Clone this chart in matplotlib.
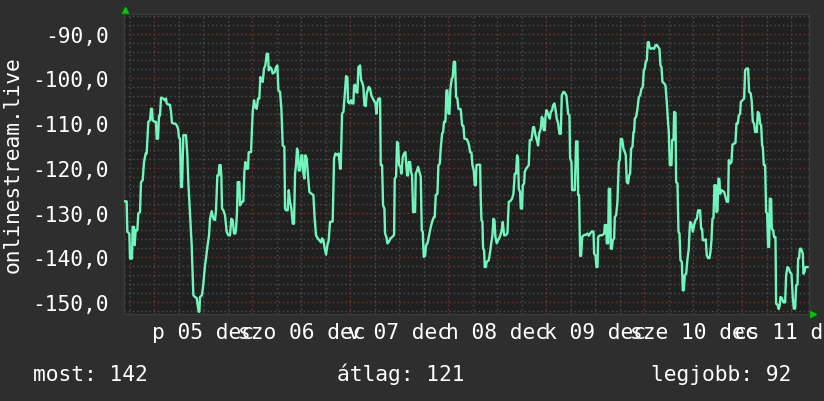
import matplotlib.pyplot as plt
import numpy as np

plt.rcParams['font.family'] = ['DejaVu Sans Mono']

# (hours since dec 05 00:00, value), one list per stretch
seg_1 = [(-7.18, -127.5), (-6.77, -127.5), (-6.60, -134.3), (-6.11, -134.7), (-5.95, -140.3),
         (-5.46, -140.3), (-5.30, -133.2), (-4.97, -133.2), (-4.81, -137.3), (-4.56, -134.0),
         (-4.16, -134.0), (-3.91, -130.2), (-3.50, -129.9), (-3.26, -123.2), (-2.85, -122.8),
         (-2.52, -118.7), (-2.11, -116.8), (-1.87, -116.8), (-1.46, -109.7), (-1.05, -109.4),
         (-0.81, -106.8), (-0.56, -106.8), (-0.40, -109.4), (0.09, -109.7), (0.42, -109.7),
         (0.58, -113.5), (0.91, -113.5), (1.15, -108.3), (1.40, -108.3), (1.64, -104.3),
         (2.21, -104.5), (2.54, -104.9), (2.87, -104.5), (3.03, -105.6), (3.52, -105.9),
         (3.84, -105.9), (4.09, -107.5), (4.33, -109.9), (4.66, -110.1), (5.15, -110.1),
         (5.48, -110.5), (5.80, -111.2), (6.05, -113.3), (6.29, -113.5), (6.54, -124.3),
         (6.78, -124.3), (6.95, -117.9), (7.11, -112.7), (7.76, -112.7), (8.09, -117.2),
         (8.33, -123.2), (8.74, -130.2), (9.15, -137.3), (9.56, -148.5), (9.97, -148.9),
         (10.37, -149.1), (10.62, -150.7), (10.86, -152.2), (11.03, -152.2), (11.19, -148.9),
         (11.68, -148.5), (12.01, -145.9), (12.42, -141.8), (12.66, -140.3), (12.99, -137.7),
         (13.40, -135.1), (13.64, -131.4), (14.05, -129.7), (14.46, -131.4), (14.86, -131.7),
         (15.11, -129.5), (15.44, -121.7), (15.76, -121.7), (15.93, -119.4), (16.25, -119.4),
         (16.42, -122.0), (16.58, -129.1), (16.91, -129.5), (17.31, -130.6), (17.72, -134.3),
         (18.13, -135.1), (18.54, -135.1), (18.86, -131.4), (19.19, -131.7), (19.52, -134.7),
         (19.84, -134.7)]

seg_2 = [(20.01, -133.6), (20.25, -129.9), (20.42, -123.2), (20.83, -123.2), (20.99, -128.4),
         (21.48, -127.6), (21.81, -127.5), (22.05, -120.9), (22.30, -118.7), (22.62, -120.2),
         (22.95, -120.2), (23.11, -116.5), (23.68, -116.5), (24.09, -107.5), (24.42, -104.9),
         (24.74, -106.4), (25.07, -106.8), (25.40, -104.5), (25.72, -104.5), (25.97, -99.7),
         (26.21, -100.1), (26.54, -100.8), (26.87, -97.8), (27.19, -97.1), (27.52, -94.5),
         (27.85, -94.5), (28.01, -98.2), (28.34, -97.5), (28.66, -97.8), (28.99, -98.9),
         (29.48, -98.6), (29.81, -97.5), (30.13, -97.1), (30.38, -102.7), (30.79, -103.0),
         (31.11, -106.8), (31.44, -115.0), (31.85, -115.3), (32.01, -129.1), (32.25, -129.5),
         (32.66, -129.5), (32.91, -125.0), (33.23, -127.6), (33.56, -129.1), (33.89, -132.5),
         (34.21, -132.5), (34.46, -121.3), (34.70, -119.4), (34.95, -115.7), (35.19, -116.5),
         (35.36, -120.6), (35.68, -120.6), (36.01, -117.2), (36.25, -117.2), (36.42, -120.6),
         (36.74, -122.4), (36.99, -117.2), (37.31, -117.9), (37.56, -120.9), (37.97, -125.4),
         (38.46, -125.8), (38.95, -126.1), (39.27, -131.4), (39.60, -135.1), (40.01, -135.8),
         (40.42, -136.2), (40.83, -136.7), (41.07, -135.8), (41.40, -136.2), (41.72, -138.1),
         (42.05, -139.4), (42.38, -137.3), (42.70, -136.2), (43.03, -132.1), (43.68, -132.0),
         (44.01, -117.9), (44.34, -116.8), (44.83, -117.2), (45.15, -116.8), (45.48, -120.2),
         (45.64, -120.2), (45.97, -107.9), (46.30, -107.5), (46.62, -103.8), (46.95, -99.5),
         (47.27, -99.7), (47.44, -105.3), (47.76, -105.6), (48.17, -104.9)]

seg_3 = [(48.42, -105.6), (48.75, -105.6), (48.91, -101.6), (49.15, -101.4), (49.40, -103.0),
         (49.73, -103.2), (49.97, -97.5), (50.38, -97.1), (50.62, -100.4), (50.87, -100.8),
         (51.20, -101.9), (51.44, -106.0), (51.77, -106.2), (52.01, -103.4), (52.50, -101.9),
         (52.83, -102.3), (53.15, -103.8), (53.73, -104.9), (54.13, -105.6), (54.38, -107.9),
         (54.62, -105.3), (54.87, -104.5), (55.28, -104.5), (55.44, -119.4), (55.77, -119.4),
         (56.01, -128.4), (56.34, -129.1), (56.50, -134.7), (56.83, -135.5), (57.07, -136.9),
         (57.40, -136.6), (57.81, -135.8), (58.22, -135.5), (58.71, -135.0), (58.87, -122.4),
         (59.20, -122.0), (59.44, -114.2), (59.69, -114.6), (59.93, -119.4), (60.26, -119.8),
         (60.50, -121.3), (60.83, -117.6), (61.15, -116.8), (61.48, -116.5), (61.64, -118.7),
         (61.89, -121.7), (62.13, -121.7), (62.30, -118.7), (62.62, -118.7), (62.87, -120.9),
         (63.11, -121.7), (63.36, -129.9), (63.85, -129.9), (64.01, -121.3), (64.34, -120.6),
         (64.58, -119.8), (64.83, -120.6), (65.24, -122.0), (65.48, -134.0), (65.73, -134.3),
         (65.97, -139.9), (66.30, -139.7), (66.54, -137.3), (66.87, -136.9), (67.20, -135.5),
         (67.60, -133.6), (68.01, -132.1), (68.42, -131.1), (68.66, -131.0), (68.91, -126.1),
         (69.32, -125.8), (69.56, -119.4), (69.89, -119.1), (70.13, -115.7), (70.46, -112.4),
         (70.71, -112.0), (70.95, -109.7), (71.28, -109.7), (71.52, -102.7), (71.77, -102.7),
         (72.01, -107.9), (72.26, -107.9), (72.50, -102.3), (72.83, -100.1), (73.07, -99.7),
         (73.32, -96.3), (73.64, -96.3), (73.89, -104.2), (74.21, -104.5), (74.46, -106.8),
         (75.03, -106.9), (75.36, -110.5), (75.68, -110.6), (75.93, -113.5), (76.50, -113.6)]

seg_4 = [(76.83, -114.2), (77.07, -115.0), (77.32, -116.5), (77.65, -116.6), (77.89, -119.4),
         (78.22, -120.6), (78.46, -123.9), (78.71, -123.9), (78.87, -119.4), (79.28, -119.3),
         (79.77, -119.3), (79.93, -126.9), (80.10, -131.7), (80.34, -132.1), (80.50, -138.1),
         (80.75, -138.4), (80.91, -142.2), (81.16, -142.2), (81.40, -141.0), (81.89, -140.7),
         (82.22, -138.8), (82.54, -136.6), (82.79, -135.1), (83.03, -131.4), (83.28, -131.7),
         (83.52, -135.5), (83.85, -136.9), (84.18, -136.2), (84.58, -135.5), (84.99, -134.3),
         (85.32, -132.1), (85.65, -135.1), (85.97, -135.1), (86.46, -134.7), (86.79, -127.6),
         (87.12, -127.5), (87.61, -126.9), (87.93, -125.8), (88.26, -121.3), (88.58, -121.3),
         (88.83, -117.2), (89.07, -117.9), (89.24, -124.7), (89.56, -125.4), (89.73, -129.1),
         (90.05, -129.1), (90.22, -123.9), (90.54, -123.5), (90.71, -120.9), (91.03, -120.2),
         (91.36, -119.8), (91.69, -119.4), (91.93, -113.8), (92.34, -113.8), (92.75, -110.9),
         (92.99, -110.9), (93.32, -112.7), (93.65, -113.8), (93.97, -115.0), (94.22, -112.4),
         (94.63, -111.2), (94.87, -108.6), (95.12, -109.0), (95.36, -111.6), (95.61, -111.6),
         (95.77, -108.6), (96.01, -107.1), (96.26, -107.5), (96.50, -108.3), (96.83, -109.0),
         (97.07, -107.5), (97.40, -107.1), (97.65, -106.0), (97.97, -105.6), (98.22, -106.8),
         (98.54, -109.0), (98.87, -110.1), (99.20, -112.4), (99.52, -112.4), (99.77, -103.8),
         (100.18, -103.0), (100.50, -103.2), (100.91, -103.9), (101.32, -107.9), (101.65, -108.3),
         (101.81, -117.9), (102.14, -118.7), (102.30, -125.0), (102.95, -125.0), (103.28, -114.1),
         (103.61, -114.1), (103.77, -126.1), (104.01, -126.1), (104.26, -139.7), (104.50, -139.7),
         (104.75, -135.5)]

seg_5 = [(105.24, -135.0), (105.65, -135.0), (106.06, -134.7), (106.38, -135.2), (106.71, -134.7),
         (107.04, -134.3), (107.36, -134.2), (107.53, -134.3), (107.69, -139.2), (108.02, -139.6),
         (108.26, -142.2), (108.51, -142.2), (108.67, -135.5), (109.08, -135.1), (109.48, -135.1),
         (109.81, -135.0), (110.14, -134.7), (110.30, -132.8), (110.63, -132.8), (110.79, -136.9),
         (111.12, -136.9), (111.28, -124.7), (111.61, -124.7), (111.77, -138.1), (112.02, -138.1),
         (112.26, -136.2), (112.59, -135.8), (112.75, -131.0), (113.08, -130.6), (113.40, -127.6),
         (113.73, -118.7), (113.97, -118.3), (114.22, -113.5), (114.55, -113.6), (114.87, -115.7),
         (115.20, -116.5), (115.44, -117.2), (115.69, -123.2), (116.01, -123.5), (116.26, -121.7),
         (116.50, -121.3), (116.75, -115.7), (117.08, -115.3), (117.32, -112.0), (117.48, -112.0),
         (117.65, -109.0), (117.97, -108.6), (118.30, -106.8), (118.63, -104.2), (118.95, -103.8),
         (119.28, -102.3), (119.61, -101.9), (119.85, -98.2), (120.10, -97.8), (120.34, -96.2),
         (120.59, -96.0), (120.83, -91.9), (121.08, -91.9), (121.24, -93.0), (121.57, -93.4),
         (121.97, -93.2), (122.38, -93.4), (122.71, -92.6), (123.04, -92.5), (123.36, -93.0),
         (123.69, -93.4), (123.93, -97.1), (124.18, -97.5), (124.42, -100.8), (124.91, -101.2),
         (125.16, -101.6), (125.48, -105.3), (125.73, -109.0), (125.97, -112.0), (126.22, -119.4),
         (126.63, -119.4), (126.79, -113.8), (127.12, -113.8), (127.28, -107.5), (127.61, -107.7),
         (127.77, -123.2), (128.10, -123.5), (128.34, -134.3), (128.59, -134.7), (128.83, -140.7),
         (129.16, -141.0), (129.40, -147.4), (129.65, -147.4), (129.89, -144.0), (130.22, -143.7),
         (130.55, -140.3), (130.87, -138.1), (131.04, -134.3), (131.20, -132.1), (131.53, -132.5),
         (131.85, -134.3), (132.18, -132.8), (132.51, -131.7), (132.83, -131.4), (133.16, -129.5),
         (133.48, -129.7)]

seg_6 = [(133.64, -129.5), (133.88, -133.6), (134.13, -133.7), (134.29, -136.2), (134.62, -136.2),
         (135.03, -136.0), (135.27, -139.6), (135.60, -140.2), (135.93, -140.2), (136.17, -138.8),
         (136.42, -136.2), (136.66, -131.4), (136.91, -131.2), (137.15, -123.9), (137.48, -123.9),
         (137.64, -129.9), (137.88, -129.7), (138.13, -122.4), (138.37, -122.6), (138.54, -125.8),
         (138.86, -125.0), (139.19, -125.2), (139.52, -125.4), (139.84, -126.5), (140.17, -127.6),
         (140.50, -127.6), (140.66, -118.3), (140.99, -119.1), (141.31, -118.7), (141.56, -114.8),
         (141.97, -114.6), (142.29, -114.4), (142.54, -110.1), (142.86, -110.1), (143.11, -108.3),
         (143.44, -107.9), (143.60, -105.3), (144.01, -104.9), (144.42, -104.5), (144.66, -98.2),
         (144.99, -97.8), (145.39, -97.8), (145.64, -103.0), (146.05, -103.4), (146.29, -105.3),
         (146.54, -109.7), (146.86, -110.1), (147.11, -112.0), (147.52, -112.0), (147.76, -107.5),
         (148.09, -107.9), (148.33, -110.1), (148.58, -110.5), (148.82, -115.0), (148.99, -115.3),
         (149.23, -119.4), (149.56, -119.4), (149.80, -129.9), (150.05, -130.2), (150.29, -137.7),
         (150.54, -137.7), (150.70, -126.9), (151.03, -127.0), (151.19, -133.6), (151.52, -134.0),
         (151.76, -135.5), (152.09, -135.5), (152.25, -150.4), (152.58, -150.6), (152.90, -151.6),
         (153.15, -150.7), (153.31, -148.9), (153.64, -149.1), (154.05, -150.1), (154.46, -150.1),
         (154.70, -144.0), (155.03, -142.2), (155.35, -142.5), (155.68, -143.4), (156.01, -143.7),
         (156.33, -149.1), (156.58, -151.5), (156.91, -151.5), (157.15, -146.3), (157.48, -146.1),
         (157.64, -140.3), (157.88, -140.2), (158.05, -138.1), (158.37, -138.1), (158.62, -138.8),
         (158.78, -139.2), (158.95, -143.7), (159.19, -143.3), (159.44, -142.2), (159.93, -142.2)]

day_labels = ["p 05 dec", "szo 06 dec", "v 07 dec", "h 08 dec", "k 09 dec", "sze 10 dec", "cs 11 dec"]
y_ticks = [-150, -140, -130, -120, -110, -100, -90]
y_title = "onlinestream.live"
legend_names = ["most", "átlag", "legjobb"]
legend_values = [142, 121, 92]

BG = "#2e2e2e"
PLOT_BG = "#202020"
LINE = "#72f5bd"
MINOR = "#4e4e4e"
MAJOR = "#753434"
ARROW = "#00c800"
FS = 15.3


def main():
    points = np.array(seg_1 + seg_2 + seg_3 + seg_4 + seg_5 + seg_6)
    hours, values = points[:, 0], points[:, 1]

    fig = plt.figure(figsize=(8.24, 4.02), dpi=100, facecolor=BG)
    ax = fig.add_axes([124 / 824, 87 / 402, 685 / 824, 300 / 402])
    ax.set_facecolor(PLOT_BG)
    ax.set_xlim(-7.42, 160.3)
    ax.set_ylim(-152.7, -85.6)

    # grid, drawn by hand so day lines and labels can differ
    dots = (0, (1, 2))
    for h in range(-6, 160, 6):
        col = MAJOR if h % 24 == 0 else MINOR
        ax.axvline(h, color=col, lw=1, ls=dots, zorder=1)
    for v in range(-152, -85, 2):
        col = MAJOR if v % 10 == 0 else MINOR
        ax.axhline(v, color=col, lw=1, ls=dots, zorder=1)

    ax.plot(hours, values, color=LINE, lw=1.7, zorder=3)

    ax.set_xticks([12 + 24 * i for i in range(len(day_labels))])
    ax.set_xticklabels(day_labels)
    ax.set_yticks(y_ticks)
    ax.set_yticklabels([f"{v:.1f}".replace(".", ",") for v in y_ticks])
    ax.tick_params(axis="both", length=0, colors="white", labelsize=FS)
    ax.tick_params(axis="y", pad=11)
    ax.tick_params(axis="x", pad=6)

    for s in ax.spines.values():
        s.set_color("#3c3c3c")
        s.set_linewidth(1)

    # little green arrows at the axis ends
    ax.plot([0.0015], [1.013], marker="^", ms=5, color=ARROW, transform=ax.transAxes, clip_on=False)
    ax.plot([1.006], [0.0], marker=">", ms=5, color=ARROW, transform=ax.transAxes, clip_on=False)

    fig.text(13 / 824, 0.5896, y_title, rotation=90, ha="center", va="center",
             color="white", fontsize=FS)

    xs = [33, 337, 651]
    for x, name, val in zip(xs, legend_names, legend_values):
        fig.text(x / 824, 21 / 402, f"{name}: {val}", va="baseline", ha="left",
                 color="white", fontsize=FS)

    fig.savefig("out.png", dpi=100, facecolor=BG)


if __name__ == "__main__":
    main()
